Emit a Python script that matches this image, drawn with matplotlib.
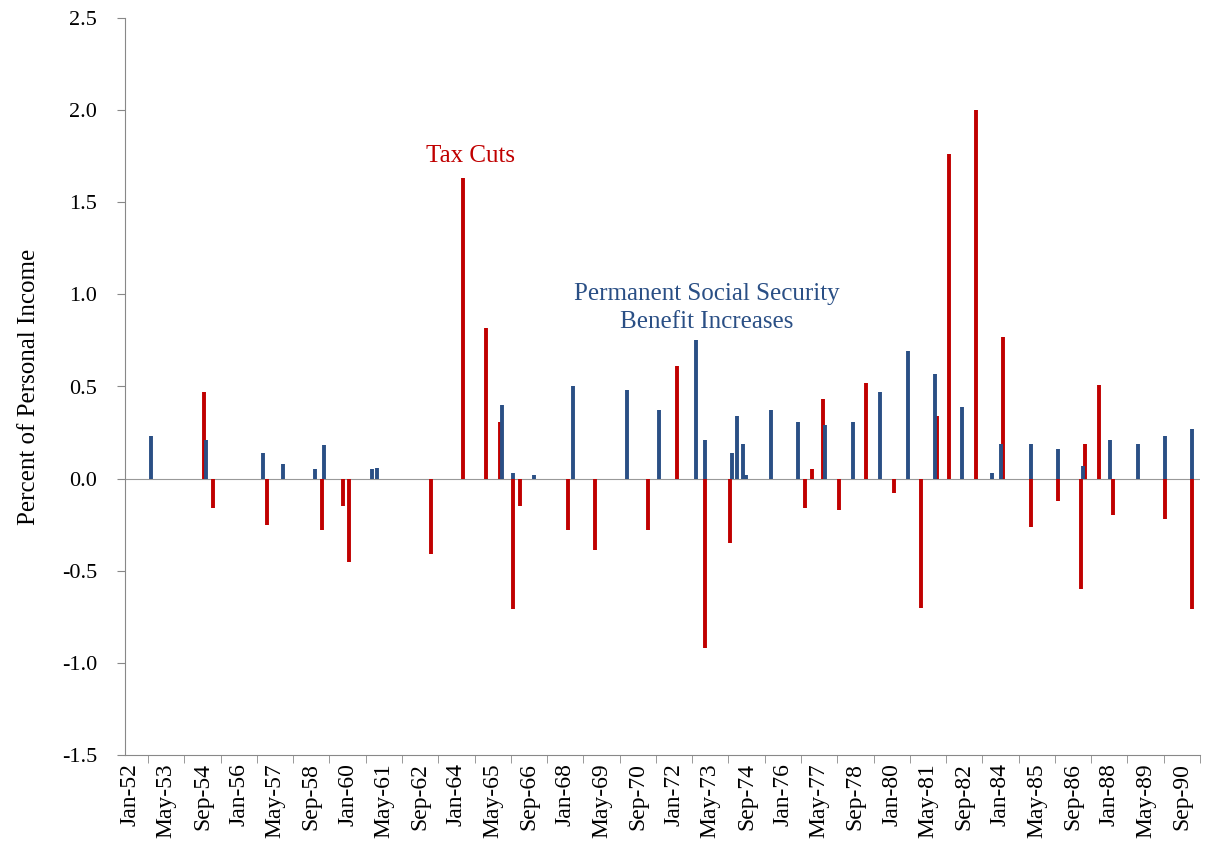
import matplotlib
matplotlib.use("Agg")
import matplotlib.pyplot as plt

blue_dates = ["1952-09","1954-09","1956-10","1957-07","1958-09","1959-01","1960-10","1960-12",
 "1965-07","1965-12","1966-09","1968-02","1970-02","1971-04","1972-08","1972-12","1973-12",
 "1974-02","1974-05","1974-06","1975-05","1976-05","1977-05","1978-05","1979-05","1980-05",
 "1981-05","1982-05","1983-06","1983-10","1984-11","1985-11","1986-10","1987-10","1988-10",
 "1989-10","1990-10"]
blue_vals = [0.23,0.21,0.14,0.08,0.05,0.18,0.05,0.06,0.40,0.03,0.02,0.50,0.48,0.37,0.75,0.21,
 0.14,0.34,0.19,0.02,0.37,0.31,0.29,0.31,0.47,0.69,0.57,0.39,0.03,0.19,0.19,0.16,0.07,0.21,
 0.19,0.23,0.27]
red_dates = ["1954-08","1954-12","1956-12","1958-12","1959-09","1959-12","1962-12","1964-02",
 "1964-12","1965-06","1965-12","1966-03","1967-12","1968-12","1970-11","1971-12","1972-12",
 "1973-11","1976-08","1976-11","1977-04","1977-11","1978-11","1979-11","1980-11","1981-06",
 "1981-11","1982-11","1983-11","1984-11","1985-11","1986-09","1986-11","1987-05","1987-11",
 "1989-10","1990-10"]
red_vals = [0.47,-0.16,-0.25,-0.28,-0.15,-0.45,-0.41,1.63,0.82,0.31,-0.71,-0.15,-0.28,-0.39,
 -0.28,0.61,-0.92,-0.35,-0.16,0.05,0.43,-0.17,0.52,-0.08,-0.70,0.34,1.76,2.00,0.77,-0.26,
 -0.12,-0.60,0.19,0.51,-0.20,-0.22,-0.71]

mon = ["Jan","Feb","Mar","Apr","May","Jun","Jul","Aug","Sep","Oct","Nov","Dec"]
def idx(d):
    y, m = d.split("-")
    return (int(y)-1952)*12 + int(m)-1
tick_idx = list(range(0, 465, 16))
tick_labels = [f"{mon[i%12]}-{(52+i//12)%100:02d}" for i in tick_idx]
tick_pos = [(i - 1.3) / 1.005 for i in tick_idx]

plt.rcParams['font.family'] = ['Liberation Serif', 'DejaVu Serif']
fig = plt.figure(figsize=(12.05, 8.63), dpi=100)
ax = fig.add_axes([125/1205, 1-755/863, 1075/1205, (755-18)/863])
red = "#C00000"; blue = "#2A4F85"
ax.vlines([idx(d) for d in red_dates], 0, red_vals, color=red, lw=2.8)
ax.vlines([idx(d) for d in blue_dates], 0, blue_vals, color=blue, lw=2.8)
ax.axhline(0, color="#999999", lw=0.8, zorder=0)
ax.set_xlim(-3.5, 468.4)
ax.set_ylim(-1.5, 2.5)
yt = [-1.5,-1.0,-0.5,0.0,0.5,1.0,1.5,2.0,2.5]
ax.set_yticks(yt)
ax.set_yticklabels([f"{v:.1f}" for v in yt], fontsize=16)
ax.set_xticks(tick_pos)
ax.set_xticklabels(tick_labels, rotation=90, fontsize=17)
ax.tick_params(axis='x', length=0, pad=6)
ax.set_xticks([p + 8/1.005 for p in tick_pos], minor=True)
ax.tick_params(axis='x', which='minor', length=6, color="#888888")
ax.tick_params(axis='y', length=6, color="#888888", pad=14)
for s in ["top","right"]:
    ax.spines[s].set_visible(False)
for s in ["left","bottom"]:
    ax.spines[s].set_color("#888888")
ax.set_ylabel("Percent of Personal Income", fontsize=18, labelpad=16)
ax.text(148, 1.72, "Tax Cuts", color=red, fontsize=18, ha="center")
ax.text(252, 0.82, "Permanent Social Security\nBenefit Increases", color=blue, fontsize=18,
        ha="center", linespacing=1.3)
fig.savefig("out.png", dpi=100)
